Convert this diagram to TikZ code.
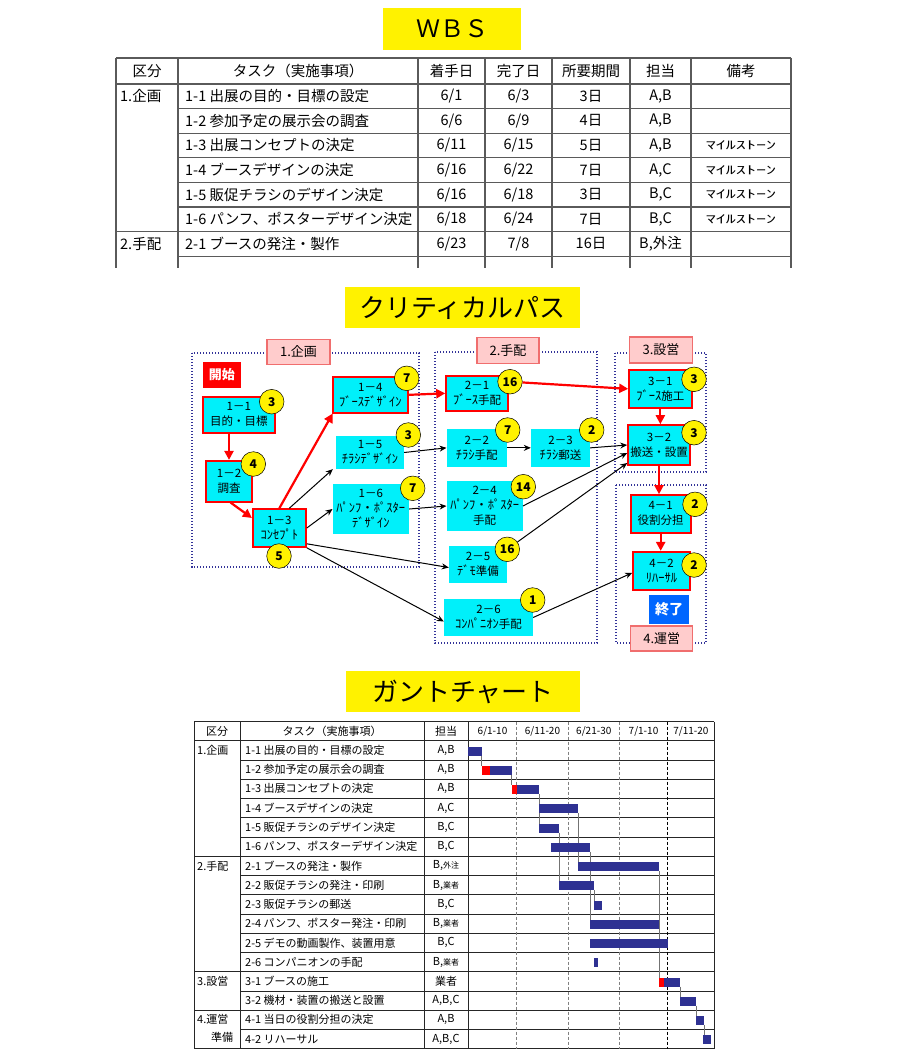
\documentclass[tikz,border=0pt]{standalone}
\usepackage{fontspec}
\usepackage{graphicx}
\setmainfont{Noto Sans CJK JP}
\usetikzlibrary{arrows.meta,calc}
\definecolor{cpcyan}{RGB}{0,240,250}
\definecolor{navy}{RGB}{51,51,153}
\definecolor{barblue}{RGB}{46,49,146}
\definecolor{pinkfill}{RGB}{255,204,204}
\definecolor{pinkdraw}{RGB}{240,110,110}
\definecolor{endblue}{RGB}{0,102,255}
\definecolor{tline}{RGB}{90,90,90}
\tikzset{
 titlebox/.style={fill=yellow, inner sep=0pt, font=\fontsize{26}{26}\selectfont},
 tl/.style={draw=tline, line width=1.2pt},
 wt/.style={inner sep=0pt, font=\fontsize{14.5}{14.5}\selectfont},
 wsm/.style={inner sep=0pt, font=\fontsize{11.5}{11.5}\selectfont},
 wh/.style 2 args={minimum width=#1pt, minimum height=#2pt},
 cp/.style={fill=cpcyan, inner sep=0pt, align=center, font=\fontsize{11.5}{15}\selectfont},
 crit/.style={cp, draw=red, line width=1.6pt},
 badge/.style={circle, fill=yellow, draw=black, line width=0.5pt, minimum size=24.6pt, inner sep=0pt, font=\bfseries\fontsize{12}{12}\selectfont},
 grp/.style={draw=navy, line width=1.4pt, dash pattern=on 1.4pt off 1.6pt},
 glabel/.style={fill=pinkfill, draw=pinkdraw, line width=1.2pt, inner sep=0pt, font=\fontsize{13}{13}\selectfont},
 carr/.style={draw=red, line width=2.2pt, -{Triangle[length=9pt,width=9pt]}},
 barr/.style={draw=black, line width=1pt, -{Stealth[length=7pt,width=6pt]}},
 gl/.style={draw=black!85, line width=0.8pt},
 gt/.style={inner sep=0pt, font=\fontsize{11}{11}\selectfont},
 gd/.style={inner sep=0pt, font=\fontsize{10}{10}\selectfont},
 bar/.style={fill=barblue},
 slack/.style={fill=red},
 glink/.style={draw=black!55, line width=0.6pt},
}
\newcommand\hk[1]{{\fontsize{12.5}{15}\selectfont #1}}
\newcommand\mls{\scalebox{1.75}[1]{ﾏｲﾙｽﾄｰﾝ}}
\newcommand\wrow[7]{%
 \pgfmathsetmacro\wy{84+24.6*(#1+0.5)}%
 \node[wt,anchor=west] (wt#1) at (185,\wy) {#2};%
 \node[wt] (ws#1) at (451.5,\wy) {#3};%
 \node[wt] (we#1) at (518.5,\wy) {#4};%
 \node[wt] (wd#1) at (591,\wy) {#5};%
 \node[wt] (wp#1) at (660.5,\wy) {#6};%
 \node[wsm] (wn#1) at (741,\wy) {#7};}
\newcommand\grow[3]{%
 \pgfmathsetmacro\gy{740.7+19.25*(#1+0.5)}%
 \node[gt,anchor=west] (gt#1) at (245,\gy) {#2};%
 \node[gt] (gp#1) at (446,\gy) {#3};}
\newcommand\gbar[4]{%
 \pgfmathsetmacro\gyt{740.7+19.25*#2}%
 \fill[#1] (#3,\gyt+6) rectangle (#4,\gyt+15);}
\newcommand\glinkv[3]{%
 \pgfmathsetmacro\gya{740.7+19.25*#2+15}%
 \pgfmathsetmacro\gyb{740.7+19.25*#3+6}%
 \draw[glink] (#1,\gya) -- (#1,\gyb);}
\begin{document}
\begin{tikzpicture}[x=1pt,y=-1pt]
\useasboundingbox[fill=white] (0,0) rectangle (900,1054);

% ---------- titles
\node[titlebox, font=\fontsize{24}{24}\selectfont, wh={138}{42}] (tw) at (452,29) {ＷＢＳ};
\node[titlebox, wh={235}{41}] (tc) at (462.5,307.5) {クリティカルパス};
\node[titlebox, wh={234}{41}] (tg) at (463,691.5) {ガントチャート};

% ---------- WBS table
\draw[tl] (116,58) -- (791,58);
\draw[tl] (116,84) -- (791,84);
\foreach \y in {108.6,133.2,157.8,182.4,207} \draw[tl] (178,\y) -- (791,\y);
\draw[tl, line width=1.6pt] (116,231.6) -- (791,231.6);
\draw[tl] (178,256.2) -- (791,256.2);
\foreach \x in {116,178,418,485,552,630,691,791} \draw[tl] (\x,58) -- (\x,268);

\node[wt] (wh1) at (147,71) {区分};
\node[wt] (wh2) at (298,71) {タスク（実施事項）};
\node[wt] (wh3) at (451.5,71) {着手日};
\node[wt] (wh4) at (518.5,71) {完了日};
\node[wt] (wh5) at (591,71) {所要期間};
\node[wt] (wh6) at (660.5,71) {担当};
\node[wt] (wh7) at (741,71) {備考};
\node[wt,anchor=west] (wg1) at (120,96.3) {1.企画};
\node[wt,anchor=west] (wg2) at (120,243.9) {2.手配};
\wrow{0}{1-1 出展の目的・目標の設定}{6/1}{6/3}{3日}{A,B}{}
\wrow{1}{1-2 参加予定の展示会の調査}{6/6}{6/9}{4日}{A,B}{}
\wrow{2}{1-3 出展コンセプトの決定}{6/11}{6/15}{5日}{A,B}{\mls}
\wrow{3}{1-4 ブースデザインの決定}{6/16}{6/22}{7日}{A,C}{\mls}
\wrow{4}{1-5 販促チラシのデザイン決定}{6/16}{6/18}{3日}{B,C}{\mls}
\wrow{5}{1-6 パンフ、ポスターデザイン決定}{6/18}{6/24}{7日}{B,C}{\mls}
\wrow{6}{2-1 ブースの発注・製作}{6/23}{7/8}{16日}{B,外注}{}

% ---------- critical path: groups
\draw[grp] (192,353) rectangle (419,567);
\draw[grp] (435,352) rectangle (597,643);
\draw[grp] (615,353) rectangle (706,472);
\draw[grp] (616,485) rectangle (706,643);
\node[glabel, wh={63}{25}] (L1) at (298.5,352) {1.企画};
\node[glabel, wh={62}{26}] (L2) at (508,350.5) {2.手配};
\node[glabel, wh={63}{26}] (L3) at (661,350) {3.設営};
\node[glabel, wh={62}{25}] (L4) at (661.7,638.5) {4.運営};

% nodes
\node[fill=red, text=white, inner sep=0pt, wh={38.3}{26}, font=\bfseries\fontsize{13}{13}\selectfont] (start) at (221.85,374.5) {開始};
\node[fill=endblue, text=white, inner sep=0pt, wh={40}{29}, font=\bfseries\fontsize{14}{14}\selectfont] (finish) at (669,609) {終了};
\node[crit, wh={72.3}{36}] (n11) at (238.85,414.7) {1－1\\目的・目標};
\node[crit, wh={46}{41}] (n12) at (229,481.2) {1－2\\調査};
\node[crit, wh={53.3}{38}] (n13) at (279.35,528) {1－3\\\hk{ｺﾝｾﾌﾟﾄ}};
\node[crit, wh={74.7}{35.7}] (n14) at (370.35,394.85) {1－4\\\hk{ﾌﾞｰｽﾃﾞｻﾞｲﾝ}};
\node[cp, wh={68}{33}] (n15) at (370,452.5) {1－5\\\hk{ﾁﾗｼﾃﾞｻﾞｲﾝ}};
\node[cp, wh={76.3}{50}] (n16) at (370.85,509) {1－6\\\hk{ﾊﾟﾝﾌ・ﾎﾟｽﾀｰ}\\\hk{ﾃﾞｻﾞｲﾝ}};
\node[crit, wh={62}{35.3}] (n21) at (477,393.35) {2－1\\\hk{ﾌﾞｰｽ}手配};
\node[cp, wh={60.3}{37.7}] (n22) at (476.85,447.85) {2－2\\\hk{ﾁﾗｼ}手配};
\node[cp, wh={59}{37.7}] (n23) at (560.5,447.85) {2－3\\\hk{ﾁﾗｼ}郵送};
\node[cp, wh={76}{50}] (n24) at (484.7,506) {2－4\\\hk{ﾊﾟﾝﾌ・ﾎﾟｽﾀｰ}\\手配};
\node[cp, wh={58}{37}] (n25) at (478,564.5) {2－5\\\hk{ﾃﾞﾓ}準備};
\node[cp, wh={89}{37}] (n26) at (488.5,617.5) {2－6\\\hk{ｺﾝﾊﾟﾆｵﾝ}手配};
\node[crit, wh={62.7}{37.7}] (n31) at (660.35,388.85) {3－1\\\hk{ﾌﾞｰｽ}施工};
\node[crit, wh={62}{40}] (n32) at (659,445) {3－2\\搬送・設置};
\node[crit, wh={60}{37.7}] (n41) at (660.7,513.85) {4－1\\役割分担};
\node[crit, wh={57}{38.3}] (n42) at (661.5,570.85) {4－2\\\hk{ﾘﾊｰｻﾙ}};

% badges
\node[badge] (b11) at (271.7,401.7) {3};
\node[badge] (b12) at (253.3,464) {4};
\node[badge] (b13) at (279,556) {5};
\node[badge] (b14) at (406.7,378.3) {7};
\node[badge] (b15) at (408.3,435) {3};
\node[badge] (b16) at (412.7,488.3) {7};
\node[badge] (b21) at (510,381.7) {16};
\node[badge] (b22) at (507.7,430) {7};
\node[badge] (b23) at (591.7,430) {2};
\node[badge] (b24) at (523.3,486.7) {14};
\node[badge] (b25) at (507.3,549.3) {16};
\node[badge] (b26) at (532.7,600) {1};
\node[badge] (b31) at (694,379.3) {3};
\node[badge] (b32) at (694,432.7) {3};
\node[badge] (b41) at (695,504.3) {2};
\node[badge] (b42) at (694,565) {2};

% critical arrows
\draw[carr] (n11.south -| n12.north) -- (n12.north);
\draw[carr] ([xshift=1.5pt]n12.south) -- ([yshift=10pt]n13.west);
\draw[carr] (n13.north) -- ([xshift=0.5pt]n14.south west);
\draw[carr] (n14.east) -- (n21.west);
\draw[carr] (b21) -- (n31.west);
\draw[carr] (n31.south) -- (n31.south |- n32.north);
\draw[carr] (n32.south) -- (n32.south |- n41.north);
\draw[carr] (n41.south) -- (n41.south |- n42.north);
% other arrows
\draw[barr] ([xshift=10pt]n13.north) -- ([xshift=-3pt]n15.south west);
\draw[barr] (n13.east) -- (n16.west);
\draw[barr] ([yshift=4pt]n13.south east) -- ([yshift=-3pt]n25.west);
\draw[barr] (n13.south east) -- ([yshift=-4pt]n26.west);
\draw[barr] (n15.east) -- (n22.west);
\draw[barr] (n16.east) -- (n24.west);
\draw[barr] (n22.east) -- (n23.west);
\draw[barr] (n23.east) -- (n32.west);
\draw[barr] (n24.east) -- ([yshift=-8pt]n32.west);
\draw[barr] (b25) -- ([yshift=-18pt]n32.west);
\draw[barr] (n26.east) -- ([yshift=-2pt]n42.west);

% ---------- Gantt chart
\draw[gl] (194,721.5) -- (714,721.5);
\draw[gl] (194,740.7) -- (714,740.7);
\foreach \k in {1,2,3,4,5,7,8,9,10,11,13,15} \draw[gl] (240,740.7+19.25*\k) -- (714,740.7+19.25*\k);
\foreach \k in {6,12,14} \draw[gl, line width=1.1pt] (194,740.7+19.25*\k) -- (714,740.7+19.25*\k);
\draw[gl] (194,1048.7) -- (714,1048.7);
\foreach \x in {516.7,568.3,619.3} \draw[draw=black!50, line width=0.6pt, dash pattern=on 3pt off 2pt] (\x,721.5) -- (\x,1048.7);
\draw[draw=black, line width=0.8pt, dash pattern=on 3pt off 2pt] (667.7,721.5) -- (667.7,1048.7);
\foreach \x in {194,240,424,468.3,714} \draw[gl] (\x,721.5) -- (\x,1048.7);

\node[gt] (gh1) at (217,731.1) {区分};
\node[gt] (gh2) at (332,731.1) {タスク（実施事項）};
\node[gt] (gh3) at (446,731.1) {担当};
\node[gd] (gh4) at (492.5,731.1) {6/1-10};
\node[gd] (gh5) at (542.5,731.1) {6/11-20};
\node[gd] (gh6) at (593.8,731.1) {6/21-30};
\node[gd] (gh7) at (643.5,731.1) {7/1-10};
\node[gd] (gh8) at (690.85,731.1) {7/11-20};

\node[gt,anchor=west] (gg1) at (197,750.3) {1.企画};
\node[gt,anchor=west] (gg2) at (197,865.8) {2.手配};
\node[gt,anchor=west] (gg3) at (197,981.3) {3.設営};
\node[gt,anchor=west] (gg4) at (197,1019.8) {4.運営};
\node[gt] (gg5) at (222,1037.5) {準備};

\grow{0}{1-1 出展の目的・目標の設定}{A,B}
\grow{1}{1-2 参加予定の展示会の調査}{A,B}
\grow{2}{1-3 出展コンセプトの決定}{A,B}
\grow{3}{1-4 ブースデザインの決定}{A,C}
\grow{4}{1-5 販促チラシのデザイン決定}{B,C}
\grow{5}{1-6 パンフ、ポスターデザイン決定}{B,C}
\grow{6}{2-1 ブースの発注・製作}{B,{\fontsize{8}{8}\selectfont 外注}}
\grow{7}{2-2 販促チラシの発注・印刷}{B,{\fontsize{8}{8}\selectfont 業者}}
\grow{8}{2-3 販促チラシの郵送}{B,C}
\grow{9}{2-4 パンフ、ポスター発注・印刷}{B,{\fontsize{8}{8}\selectfont 業者}}
\grow{10}{2-5 デモの動画製作、装置用意}{B,C}
\grow{11}{2-6 コンパニオンの手配}{B,{\fontsize{8}{8}\selectfont 業者}}
\grow{12}{3-1 ブースの施工}{業者}
\grow{13}{3-2 機材・装置の搬送と設置}{A,B,C}
\grow{14}{4-1 当日の役割分担の決定}{A,B}
\grow{15}{4-2 リハーサル}{A,B,C}

% links
\glinkv{481.7}{0}{1}
\glinkv{511.7}{1}{2}
\glinkv{539}{2}{4}
\glinkv{578.3}{3}{6}
\glinkv{559.3}{4}{7}
\glinkv{590}{5}{9}
\glinkv{594}{7}{8}
\glinkv{659}{6}{12}
\glinkv{680}{12}{13}
\glinkv{696}{13}{14}
\glinkv{704.3}{14}{15}

% bars
\gbar{bar}{0}{468.3}{481.7}
\gbar{slack}{1}{481.7}{490}
\gbar{bar}{1}{490}{511.7}
\gbar{slack}{2}{511.7}{516.7}
\gbar{bar}{2}{516.7}{539}
\gbar{bar}{3}{539}{578.3}
\gbar{bar}{4}{539}{559.3}
\gbar{bar}{5}{550.7}{590}
\gbar{bar}{6}{578.3}{659}
\gbar{bar}{7}{559.3}{594}
\gbar{bar}{8}{594}{602.3}
\gbar{bar}{9}{590}{659}
\gbar{bar}{10}{590}{667.7}
\gbar{bar}{11}{594}{598.3}
\gbar{slack}{12}{659}{664}
\gbar{bar}{12}{664}{680}
\gbar{bar}{13}{680}{696}
\gbar{bar}{14}{696}{704.3}
\gbar{bar}{15}{702.7}{710.7}
\end{tikzpicture}
\end{document}
